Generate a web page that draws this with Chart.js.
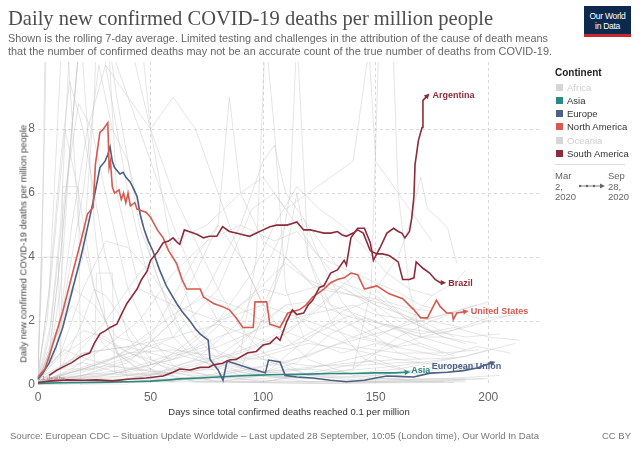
<!DOCTYPE html>
<html>
<head>
<meta charset="utf-8">
<script src="https://cdn.jsdelivr.net/npm/chart.js@4.4.1/dist/chart.umd.min.js"></script>
<style>
  body { margin: 0; width: 640px; height: 452px; background: #fff; position: relative; overflow: hidden;
         font-family: "Liberation Sans", Arial, sans-serif; }
  #chart { position: absolute; left: 0; top: 0; }
  .txt { position: absolute; white-space: nowrap; transform-origin: left top; line-height: 1; }
  #title { left: 8px; top: 8px; font-family: "Liberation Serif", "Times New Roman", serif; font-size: 21px; color: #4d4d4d; }
  .sub { left: 8px; font-size: 10.5px; color: #666; }
  #ytitle { font-size: 9.5px; color: #444; transform-origin: center center; }
  #logo { position: absolute; left: 584px; top: 6px; width: 47px; height: 31px; background: #0d2a4e;
          border-bottom: 3px solid #c8282d; color: #fff; font-size: 8.5px; line-height: 10px; text-align: center;
          box-sizing: border-box; padding-top: 5px; letter-spacing: -0.3px; }
  .leg { position: absolute; left: 567px; font-size: 9.5px; line-height: 12px; color: #333; white-space: nowrap; }
  .sw { position: absolute; left: 556px; width: 7px; height: 7px; }
  .date { position: absolute; font-size: 9.5px; line-height: 10.5px; color: #666; }
  #footer { left: 10px; top: 431px; font-size: 9.5px; color: #777; }
  #ccby { position: absolute; left: 602px; top: 431px; font-size: 9.5px; color: #777; line-height: 1; }
</style>
</head>
<body>
<canvas id="chart" width="640" height="452"></canvas>

<div class="txt" id="title">Daily new confirmed COVID-19 deaths per million people</div>
<div class="txt sub" id="sub1" style="top:33px">Shown is the rolling 7-day average. Limited testing and challenges in the attribution of the cause of death means</div>
<div class="txt sub" id="sub2" style="top:46px">that the number of confirmed deaths may not be an accurate count of the true number of deaths from COVID-19.</div>
<div id="logo">Our World<br>in Data</div>

<div class="txt" id="ytitle">Daily new confirmed COVID-19 deaths per million people</div>

<div class="leg" style="left:555px;top:67px;font-weight:bold;font-size:10px;color:#222">Continent</div>
<div class="sw" style="top:84px;background:#d6d6d6"></div><div class="leg" style="top:82px;color:#cfcfcf">Africa</div>
<div class="sw" style="top:97px;background:#2b8a80"></div><div class="leg" style="top:95px">Asia</div>
<div class="sw" style="top:110px;background:#4d6185"></div><div class="leg" style="top:108px">Europe</div>
<div class="sw" style="top:123px;background:#d65a4f"></div><div class="leg" style="top:121px">North America</div>
<div class="sw" style="top:137px;background:#d6d6d6"></div><div class="leg" style="top:135px;color:#cfcfcf">Oceania</div>
<div class="sw" style="top:150px;background:#8c2b3a"></div><div class="leg" style="top:148px">South America</div>
<div style="position:absolute;left:555px;top:164px;width:70px;height:1px;background:#ddd"></div>
<div class="date" style="left:555px;top:171px">Mar<br>2,<br>2020</div>
<svg style="position:absolute;left:576px;top:182px" width="32" height="8">
  <line x1="3" y1="4" x2="26" y2="4" stroke="#666" stroke-width="0.8"/>
  <circle cx="4" cy="4" r="1.2" fill="#666"/><circle cx="11" cy="4" r="1.2" fill="#666"/>
  <circle cx="18" cy="4" r="1.2" fill="#666"/><path d="M24 1.5 L29 4 L24 6.5 Z" fill="#666"/>
</svg>
<div class="date" style="left:608px;top:171px">Sep<br>28,<br>2020</div>

<div class="txt" id="footer">Source: European CDC – Situation Update Worldwide – Last updated 28 September, 10:05 (London time), Our World In Data</div>
<div id="ccby">CC BY</div>

<script>
// axis ticks
const xTicks = [0, 50, 100, 150, 200];
const yTicks = [0, 2, 4, 6, 8];

// highlighted series: [days since 0.1 deaths/million, daily deaths per million]
const argentina = [[0,0.08],[5,0.12],[13,0.16],[20,0.15],[26,0.16],[33,0.13],[41,0.19],[48,0.22],[55.6,0.28],[60,0.4],[63,0.5],
  [67.5,0.47],[72,0.55],[76,0.56],[78,0.63],[82,0.68],[85,0.78],[88,0.8],[93,1.0],[97,1.05],[100,1.25],[103,1.3],[106,1.5],
  [107.5,1.4],[110.6,2.0],[113,2.35],[115,2.2],[118,2.25],[120,2.5],[122,2.65],[125,3.05],[127,3.1],[130,3.5],[133,3.6],
  [136,3.9],[137,3.75],[139,4.6],[142,4.9],[145,4.9],[147.6,4.45],[149,3.9],[152,4.3],[155,4.75],[158,4.9],[160,4.8],
  [161.6,4.75],[163,4.6],[165,4.8],[166,5.2],[167,5.9],[167.5,6.9],[169,7.65],[170.6,8.05],[171,8.9],[173,9.05]];

const brazil = [[5,0.3],[8,0.45],[11,0.56],[15,0.7],[18.7,0.88],[21,0.95],[23,1.0],[25,1.3],[27.5,1.6],[30,1.7],[32,1.8],
  [35,1.9],[37,2.2],[39.5,2.55],[42,2.8],[44,3.0],[46,3.3],[48.4,3.55],[50,3.9],[53,4.15],[55.6,4.45],[58,4.5],[60,4.6],
  [62,4.45],[63,4.4],[65,4.85],[67,4.8],[69,4.75],[71,4.7],[73.5,4.6],[76,4.65],[79.4,4.65],[82,4.95],[85,4.8],[88,4.75],
  [91,4.7],[94,4.65],[97,4.75],[100,4.85],[103,4.95],[106,5.0],[110.6,5.0],[113,5.05],[115,5.1],[118,4.85],[121,4.85],
  [124,4.8],[127,4.75],[130,4.75],[133,4.8],[135,4.7],[137,4.65],[140,4.75],[142,4.85],[144.5,4.75],[147.6,4.2],
  [150.6,4.1],[153,4.1],[156,4.05],[160,3.85],[162,3.3],[165,3.3],[167,3.35],[168,3.85],[171,3.65],[174,3.5],
  [176.4,3.3],[178.7,3.2],[180,3.2]];

const unitedStates = [[0,0.25],[3,0.5],[5,0.9],[8,1.6],[11,2.3],[15,3.4],[18.7,4.4],[22,5.35],[24.5,5.55],[25.5,6.9],
  [27.5,7.9],[29,8.0],[31,8.2],[31.6,6.8],[32.2,7.0],[33,6.2],[34,6.0],[36,6.1],[37,5.8],[38,6.0],[39,5.7],[40,6.0],
  [41,5.6],[43,5.7],[44,5.5],[46,5.45],[48,5.4],[50,5.25],[53,4.85],[55.6,4.6],[58,4.2],[61.6,3.8],[64,3.3],[66,3.0],
  [69,3.0],[72,3.0],[73.5,2.75],[78,2.55],[82,2.45],[85,2.35],[88,2.1],[91,1.8],[95.6,1.8],[96.4,2.6],[101.6,2.6],
  [103,1.9],[107.5,1.8],[111,2.25],[116,2.35],[119,2.5],[122,2.75],[127,3.0],[130,3.2],[133,3.3],[136,3.35],[139,3.5],
  [142,3.45],[145,3.0],[150.5,3.1],[156,2.85],[162,2.7],[167,2.35],[170,2.1],[173,2.1],[177,2.65],[178.7,2.45],
  [181.6,2.25],[184,2.25],[184.5,2.05],[186,2.25],[190,2.3]];

const europeanUnion = [[0,0.2],[2,0.35],[5,0.7],[8,1.2],[11,1.8],[15,2.9],[18.7,3.9],[21,4.6],[23,5.25],[25.3,6.0],
  [27.5,6.8],[29.8,7.0],[31,7.2],[32,7.45],[33,7.0],[34,6.8],[36.4,6.6],[37.8,6.65],[39,6.5],[40.9,6.35],[42,6.2],
  [44,5.9],[45.5,5.3],[47,4.9],[49,4.5],[51,4.2],[54,3.6],[57,3.1],[61.6,2.55],[64,2.3],[67.5,2.0],[70,1.75],[72,1.6],
  [75.6,1.4],[76.4,0.8],[80,0.47],[82.2,0.15],[84,0.75],[89.8,0.62],[95,0.5],[101,0.38],[102.4,0.78],[107.5,0.72],
  [109.8,0.3],[115,0.25],[122,0.22],[130,0.15],[137,0.1],[145,0.15],[150,0.22],[155,0.28],[160,0.27],[167,0.25],
  [174,0.37],[182,0.4],[189,0.45],[195,0.53],[202,0.7]];

const asia = [[0,0.05],[10,0.07],[20,0.08],[30,0.09],[40,0.1],[50,0.12],[58,0.16],[64,0.2],[72,0.22],[80,0.25],[88,0.28],
  [95,0.3],[103,0.32],[110,0.33],[120,0.34],[130,0.36],[140,0.36],[150,0.38],[158,0.38],[164,0.4]];

// all other countries, drawn in grey behind
const otherCountries = [
  [[0,0.1],[5,1.5],[10,5],[15,12],[20,20],[30,25],[40,15],[50,8],[60,4],[70,2],[80,1],[100,0.4],[130,0.3],[160,0.5],[190,0.9],[200,1.1]],
  [[0,0.2],[5,3],[10,10],[15,16],[25,14],[35,9],[45,5],[55,3],[65,1.5],[80,0.3],[100,0.1],[140,0.5],[160,1.5],[175,2.0],[190,2.4],[200,2.6]],
  [[0,0.1],[5,0.8],[10,3],[15,8],[20,12],[25,13],[30,11],[40,9],[50,7],[60,5],[70,3.3],[80,2],[90,1.2],[100,0.8],[120,0.3],[150,0.1],[180,0.2],[205,0.3]],
  [[0,0.1],[5,1],[10,4],[15,8],[20,12],[25,14],[30,13.5],[40,11],[50,8],[60,6],[70,4.5],[80,3],[90,1.8],[100,1],[120,0.3],[150,0.2],[180,0.15],[198,0.2]],
  [[0,0.1],[5,1],[10,4],[15,8],[20,12],[25,14],[30,10],[40,6],[50,3],[60,1.5],[70,0.8],[90,0.3],[120,0.2],[150,0.3],[180,0.6],[200,0.7]],
  [[0,0.1],[8,1],[15,5],[22,8],[30,10],[40,9],[50,8],[60,9],[70,8],[80,6],[90,4],[100,2.5],[110,1.5],[120,0.8],[140,0.3],[170,0.1],[190,0.1]],
  [[0,0.2],[6,2],[12,6],[18,8.8],[24,8],[30,6],[40,3],[50,1.5],[60,0.6],[80,0.2],[120,0.1],[160,0.2],[190,0.5]],
  [[0,0.1],[10,2],[20,6],[27,10],[33,8],[40,7],[50,4],[60,2],[70,1],[90,0.4],[120,0.1],[180,0.1]],
  [[0,0.5],[2,5],[4,15],[8,40],[14,30],[20,10],[25,5],[30,2],[40,0.2],[60,0.1]],
  [[0,0.3],[3,8],[6,20],[12,12],[18,5],[25,3],[35,1],[50,0.5],[60,0.1]],
  [[0,0.2],[5,3],[10,7],[14,9.5],[20,8],[30,4],[40,1.5],[50,0.5],[70,0.1],[100,0.1],[150,0.1],[200,0.2]],
  [[0,0.1],[10,1],[20,3],[30,4.5],[40,4.3],[50,3.5],[60,2.5],[70,1.5],[80,0.8],[100,0.3],[140,0.1],[170,0.2],[190,0.2]],
  [[0,0.05],[15,0.5],[30,1.2],[45,2],[60,3.5],[75,4.5],[90,5],[105,4.5],[115,4.8],[125,4],[140,3.5],[150,3.2],[160,2.9],[170,2.5],[175,2.4]],
  [[0,0.1],[20,0.3],[40,0.7],[60,2],[70,3.5],[80,5],[85,9],[90,6],[100,4.5],[110,4],[120,3.3],[130,3],[140,2.8],[150,2.7],[165,2.4],[175,2.3]],
  [[0,0.1],[15,0.8],[30,2],[45,3.5],[60,4.5],[75,5],[90,6],[100,6.5],[110,5.5],[120,6],[130,6.5],[140,7],[147,10.5],[150,7],[160,6],[170,5],[175,4.5]],
  [[0,0.05],[25,0.5],[45,1],[60,2],[75,3],[90,5],[100,7],[105,7.5],[110,6],[120,5],[130,4],[140,3],[150,2.5],[160,2]],
  [[0,0.3],[10,2],[20,4],[25,9],[28,15],[35,6],[45,3],[60,2.5],[80,2],[100,2.5],[110,4],[130,2.5],[150,2],[170,1.5],[180,1.5]],
  [[0,0.05],[30,0.3],[60,0.8],[80,2],[95,3.5],[105,5],[115,6.2],[125,5.5],[135,5],[145,4.3],[155,3.5],[165,3],[175,2.8]],
  [[0,0.2],[20,1],[40,1.2],[60,1.5],[80,3],[95,5.5],[105,6],[115,5],[125,4],[135,3.2],[150,2.8],[165,2],[180,1.5],[190,1.3]],
  [[0,0.1],[10,0.5],[20,0.7],[40,0.3],[60,0.1],[80,0.1],[100,0.3],[120,1.5],[135,2],[150,1.5],[165,2],[175,2.8],[185,3.2],[190,3.6]],
  [[0,0.3],[10,1],[20,1.7],[30,1.5],[40,1],[60,0.6],[80,0.9],[100,1.9],[110,2.5],[120,2.6],[140,2.1],[160,1.8],[180,1.6],[200,2.1],[214,2.2]],
  [[0,0.05],[30,0.1],[50,0.3],[70,0.8],[90,2],[100,3.5],[110,5],[118,5.2],[125,4],[135,2.6],[145,1.8],[160,1],[170,0.8]],
  [[0,0.02],[30,0.05],[60,0.15],[80,0.25],[100,0.4],[120,0.55],[140,0.7],[160,0.8],[175,0.82],[185,0.85]],
  [[0,0.05],[20,0.5],[40,1],[60,1.1],[80,0.9],[100,0.8],[120,0.6],[140,0.6],[160,0.7],[170,0.7]],
  [[0,0.1],[20,1],[40,1.2],[60,0.8],[80,1.2],[100,1.8],[120,2.2],[140,2.5],[150,2.2],[170,2],[185,2.3],[195,2.5]],
  [[0,0.1],[30,0.7],[50,1.5],[70,4],[80,5],[90,4],[100,2.5],[120,2],[140,1.5],[160,1.2],[170,1.3]],
  [[0,0.1],[40,0.3],[80,0.5],[100,2],[110,4],[115,6],[120,4],[130,2.5],[145,1.5],[160,1.2]],
  [[0,0.1],[30,0.3],[60,0.8],[80,1.5],[100,2],[110,2.5],[120,1.8],[140,1.2],[160,1],[180,1],[196,1.1]],
  [[0,0.05],[40,0.1],[80,0.2],[120,0.5],[150,1],[170,1.5],[190,1.8],[210,2.2]],
  [[0,0.1],[50,0.5],[80,2],[100,3],[110,2.8],[130,3.2],[150,2.5],[170,2],[185,1.5]],
  [[0,0.1],[40,0.5],[70,1.2],[90,2.5],[110,3.8],[125,3],[140,2.8],[160,2.4],[175,2],[188,1.8]],
  [[140,0.5],[148,3],[152,12],[156,14],[160,6],[165,3],[170,1.5]],
  [[90,1],[97,4],[101,11],[105,8],[110,3],[118,1.5]],
  [[0,0.5],[4,2],[8,5],[12,8],[18,6],[25,3],[35,1],[50,0.2],[100,0.1],[130,0.5],[150,0.8],[170,0.3]],
  [[0,0.05],[10,0.5],[20,2],[25,3],[30,2.8],[40,1.8],[50,0.8],[60,0.4],[80,0.1],[120,0.05],[160,0.07],[185,0.08]],
  [[0,0.2],[8,1.5],[16,3],[25,2.5],[35,1.5],[50,1.2],[70,0.8],[90,0.4],[120,0.5],[150,0.3],[180,0.5],[195,0.6]],
  [[0,0.2],[8,1.5],[15,2.5],[22,2],[30,1.2],[45,0.5],[70,0.1],[130,0.05],[170,0.1],[190,0.15]],
  [[0,0.1],[60,0.1],[90,0.5],[105,3],[112,6],[115,11],[120,4],[130,2],[145,0.8],[170,0.3]],
  [[0,0.5],[2,4],[9,4],[10,0.5],[25,0.5],[26,3.5],[33,3.5],[34,0.4],[60,0.3]],
  [[10,0],[11,6.2],[18,6.2],[19,0],[40,0]],
  [[150,3],[160,4],[165,5],[170,6.5],[173,5.5],[178,5.2],[182,4.9],[186,3.8]],
  [[0,0.1],[15,0.4],[30,0.6],[45,0.5],[60,0.9],[75,1.2],[90,0.8],[105,1.1],[120,1.4],[135,1.0],[150,1.3],[165,1.1],[180,0.9],[195,1.2],[210,1.0]],
  [[0,0.05],[20,0.3],[40,0.8],[55,1.3],[70,0.9],[85,0.6],[100,0.4],[115,0.7],[130,1.6],[145,2.1],[160,1.7],[175,1.4],[190,1.1]],
  [[0,0.2],[10,0.9],[25,1.6],[35,1.2],[50,0.7],[65,0.4],[80,0.3],[100,0.6],[120,0.9],[140,1.5],[155,1.9],[170,1.6],[185,1.8],[200,1.5],[214,1.4]],
  [[0,0.1],[30,0.2],[60,0.5],[90,1.0],[110,1.6],[125,2.4],[135,3.1],[145,2.6],[155,2.0],[170,1.3],[185,0.9]],
  [[0,0.3],[12,1.1],[22,0.8],[40,0.5],[70,0.3],[100,0.2],[130,0.4],[160,0.6],[190,0.9],[212,1.3]],
  [[0,0.05],[40,0.2],[70,0.6],[95,1.2],[115,1.9],[130,2.8],[140,3.4],[150,3.0],[160,2.3],[175,1.7],[190,1.5],[205,1.6]],
  [[0,0.1],[20,0.5],[45,1.1],[65,1.6],[80,1.9],[95,1.5],[110,1.2],[125,1.8],[140,2.2],[155,1.6],[170,1.2],[180,1.0]],
  [[0,0.02],[50,0.1],[80,0.3],[110,0.7],[130,1.2],[150,1.6],[170,2.0],[185,2.3],[200,2.0]],
  [[0,0.15],[25,0.35],[50,0.3],[75,0.5],[100,0.9],[120,1.3],[140,1.1],[160,0.8],[180,0.6],[200,0.5]],
  [[0,0.1],[35,0.9],[60,2.2],[75,2.8],[90,2.4],[105,1.8],[120,1.4],[135,2.3],[150,2.7],[165,2.0],[180,1.5],[195,1.3]]
];

const SA = '#8c2b3a', NA = '#d65a4f', EU = '#4d6185', AS = '#2b8a80';
const FONT = '"Liberation Sans", Arial, sans-serif';

// label offsets from the end of each line
const highlighted = [
  { label: 'Argentina', points: argentina, color: SA, dx: 5, dy: 0 },
  { label: 'Brazil', points: brazil, color: SA, dx: 5, dy: 1 },
  { label: 'United States', points: unitedStates, color: NA, dx: 5, dy: 0 },
  { label: 'European Union', points: europeanUnion, color: EU, dx: -61, dy: 4 },
  { label: 'Asia', points: asia, color: AS, dx: 4, dy: -2 },
];

const toXY = pts => pts.map(([x, y]) => ({ x, y }));

const datasets = [
  ...highlighted.map(h => ({
    label: h.label, data: toXY(h.points), borderColor: h.color,
    borderWidth: 1.6, pointRadius: 0, tension: 0, order: 0,
  })),
  ...otherCountries.map((pts, i) => ({
    label: 'country ' + i, data: toXY(pts), borderColor: 'rgba(195,195,195,0.55)',
    borderWidth: 0.8, pointRadius: 0, tension: 0, order: 1,
  })),
];

const endLabels = {
  id: 'endLabels',
  afterDatasetsDraw(chart) {
    const ctx = chart.ctx;
    highlighted.forEach((h, i) => {
      const pts = chart.getDatasetMeta(i).data;
      const p = pts[pts.length - 1], q = pts[pts.length - 2];
      const ang = Math.atan2(p.y - q.y, p.x - q.x);
      ctx.save();
      ctx.translate(p.x, p.y);
      ctx.rotate(ang);
      ctx.beginPath();
      ctx.moveTo(3, 0); ctx.lineTo(-2.5, -2.6); ctx.lineTo(-2.5, 2.6); ctx.closePath();
      ctx.fillStyle = h.color;
      ctx.fill();
      ctx.restore();
      ctx.save();
      ctx.font = 'bold 9px ' + FONT;
      ctx.fillStyle = h.color;
      ctx.textBaseline = 'middle';
      ctx.fillText(h.label, p.x + h.dx, p.y + h.dy);
      ctx.restore();
    });
    // start marker label
    const a = chart.chartArea;
    ctx.save();
    ctx.font = '6px ' + FONT;
    ctx.fillStyle = '#c0707a';
    ctx.textBaseline = 'middle';
    ctx.fillText('0.1 deaths', a.left - 1, a.bottom - 7);
    ctx.restore();
  }
};

Chart.defaults.font.family = FONT;

new Chart(document.getElementById('chart'), {
  type: 'line',
  data: { datasets },
  plugins: [endLabels],
  options: {
    responsive: false,
    animation: false,
    events: [],
    layout: { padding: { left: 0, right: 100, top: 62, bottom: 22 } },
    plugins: { legend: { display: false }, tooltip: { enabled: false } },
    scales: {
      x: {
        type: 'linear', min: 0, max: 223,
        afterBuildTicks: s => { s.ticks = xTicks.map(v => ({ value: v })); },
        afterFit: s => { s.height = 45; },
        ticks: { color: '#666', font: { size: 12 }, padding: 5 },
        grid: { drawTicks: false, color: c => c.tick && c.tick.value === 0 ? 'rgba(0,0,0,0)' : '#d9d9d9' },
        border: { display: false, dash: [3, 3] },
        title: { display: true, text: 'Days since total confirmed deaths reached 0.1 per million',
                 color: '#333', font: { size: 9.5 }, padding: { top: 0, bottom: 12 } },
      },
      y: {
        min: 0, max: 10.1,
        afterBuildTicks: s => { s.ticks = yTicks.map(v => ({ value: v })); },
        afterFit: s => { s.width = 38; },
        ticks: { color: '#666', font: { size: 12 }, padding: 3 },
        grid: { drawTicks: false, color: c => c.tick && c.tick.value === 0 ? 'rgba(0,0,0,0)' : '#d9d9d9' },
        border: { display: false, dash: [3, 3] },
      },
    },
  },
});

// stretch header/footer text to the widths in the reference
function fitWidth(id, w) {
  const el = document.getElementById(id);
  const r = w / el.getBoundingClientRect().width;
  el.style.transform = 'scaleX(' + r + ')';
}
fitWidth('title', 485);
fitWidth('sub1', 540);
fitWidth('sub2', 544);
fitWidth('footer', 529);

const yt = document.getElementById('ytitle');
const yw = yt.getBoundingClientRect().width, yh = yt.getBoundingClientRect().height;
yt.style.left = (23 - yw / 2) + 'px';
yt.style.top = (244 - yh / 2) + 'px';
yt.style.transform = 'rotate(-90deg) scaleX(' + (238 / yw) + ')';
</script>
</body>
</html>
